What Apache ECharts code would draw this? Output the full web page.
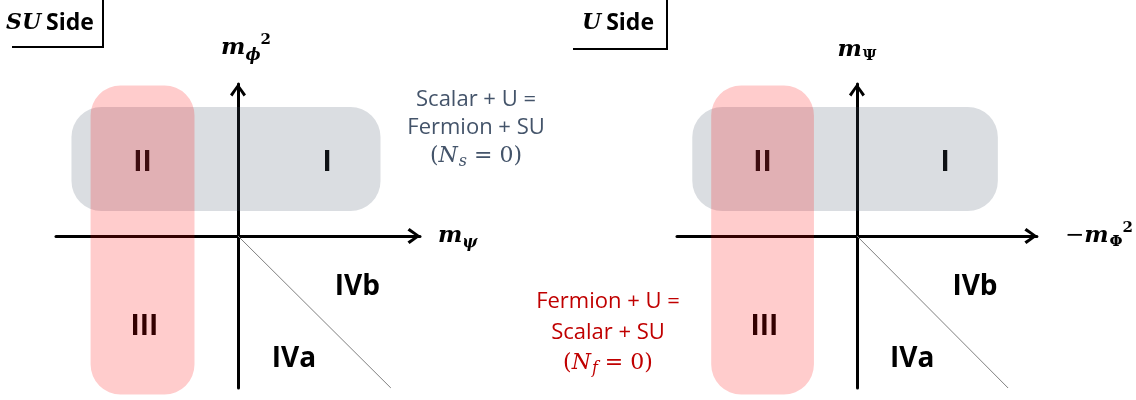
<!DOCTYPE html>
<html>
<head>
<meta charset="utf-8">
<script src="https://cdn.jsdelivr.net/npm/echarts@6/dist/echarts.min.js"></script>
<style>
html, body { margin: 0; padding: 0; background: #fff; }
#main { width: 1136px; height: 400px; }
</style>
</head>
<body>
<div id="main"></div>
<script>
// both panels share the same layout of regions in (x, y)
var bandNames = ['I + II', 'II + III'];
var bandX = [[-0.915, 0.783], [-0.81, -0.239]];
var bandY = [[0.164, 0.849], [-1.043, 0.99]];

var regionNames = ['I', 'II', 'III', 'IVb', 'IVa'];
var regionX = [0.49, -0.525, -0.514, 0.656, 0.307];
var regionY = [0.48, 0.48, -0.6, -0.336, -0.81];

var boundaryX = [0, 0.84];
var boundaryY = [0, -1.0];

var panelTitles = ['SU', 'U'];
var xNames = ['{m|m}{sub|ψ}', '{op|−}{m|m}{subU|Φ}{sup|2}'];
var yNames = ['{m|m}{sub|ϕ}{sup|2}', '{m|m}{subU|Ψ}'];

var bandColors = ['rgba(68,84,106,0.2)', 'rgba(255,0,0,0.2)'];
var chevron = 'path://M8,0 L16,11 L13.6,13 L8,4.6 L2.4,13 L0,11 Z';

var myChart = echarts.init(document.getElementById('main'));

var mathRich = {
    m: { fontFamily: 'DejaVu Serif', fontStyle: 'italic', fontWeight: 'bold', fontSize: 23, color: '#000' },
    op: { fontFamily: 'DejaVu Serif', fontSize: 23, color: '#000' },
    sub: { fontFamily: 'DejaVu Serif', fontStyle: 'italic', fontWeight: 'bold', fontSize: 16, color: '#000', padding: [14, 0, 0, 0] },
    subU: { fontFamily: 'DejaVu Serif', fontWeight: 'bold', fontSize: 15, color: '#000', padding: [12, 0, 0, 1] },
    sup: { fontFamily: 'DejaVu Serif', fontWeight: 'bold', fontSize: 15, color: '#000', padding: [0, 0, 16, 0] }
};

function noteRich(color) {
    return {
        t: { fontFamily: 'Open Sans', fontSize: 22, fill: color },
        p: { fontFamily: 'DejaVu Serif', fontSize: 22, fill: color },
        n: { fontFamily: 'DejaVu Serif', fontStyle: 'italic', fontSize: 22, fill: color },
        s: { fontFamily: 'DejaVu Serif', fontStyle: 'italic', fontSize: 16, fill: color, padding: [11, 0, 0, 1] }
    };
}

function makeAxis(idx, name, isX) {
    return {
        type: 'value',
        gridIndex: idx,
        min: -1,
        max: 1,
        name: name,
        nameLocation: 'end',
        nameGap: isX ? (idx === 0 ? 18 : 28) : 20,
        nameTextStyle: {
            rich: mathRich,
            padding: (!isX && idx === 0) ? [0, 0, 0, 16] : 0
        },
        axisLine: {
            onZero: true,
            symbol: ['none', chevron],
            symbolSize: [16, 14],
            symbolOffset: [0, -6],
            lineStyle: { color: '#000', width: 3 }
        },
        axisTick: { show: false },
        axisLabel: { show: false },
        splitLine: { show: false }
    };
}

function renderBand(params, api) {
    var p1 = api.coord([api.value(0), api.value(3)]);
    var p2 = api.coord([api.value(1), api.value(2)]);
    return {
        type: 'rect',
        shape: { x: p1[0], y: p1[1], width: p2[0] - p1[0], height: p2[1] - p1[1], r: 30 },
        style: { fill: bandColors[params.dataIndex] }
    };
}

var bandData = bandX.map(function (x, i) {
    return { name: bandNames[i], value: [x[0], x[1], bandY[i][0], bandY[i][1]] };
});
var regionData = regionNames.map(function (n, i) {
    return [regionX[i], regionY[i], n];
});
var boundaryData = boundaryX.map(function (x, i) {
    return [x, boundaryY[i]];
});

var series = [];
[0, 1].forEach(function (idx) {
    series.push({
        type: 'line',
        xAxisIndex: idx,
        yAxisIndex: idx,
        data: boundaryData,
        symbol: 'none',
        z: 1,
        lineStyle: { color: '#7f7f7f', width: 1 }
    });
    series.push({
        type: 'scatter',
        xAxisIndex: idx,
        yAxisIndex: idx,
        data: regionData,
        symbolSize: 0,
        z: 1,
        itemStyle: { opacity: 1 },
        label: {
            show: true,
            position: 'inside',
            formatter: function (p) { return p.value[2]; },
            fontFamily: 'Open Sans',
            fontWeight: 'bold',
            fontSize: 28,
            color: '#000'
        }
    });
    series.push({
        type: 'custom',
        xAxisIndex: idx,
        yAxisIndex: idx,
        data: bandData,
        renderItem: renderBand,
        z: 3
    });
});

function titleText(x, word) {
    return {
        type: 'text', x: x, y: 23,
        style: {
            text: '{it|' + word + '}{b|Side}',
            verticalAlign: 'middle',
            rich: {
                it: { fontFamily: 'DejaVu Serif', fontStyle: 'italic', fontWeight: 'bold', fontSize: 22, fill: '#000' },
                b: { fontFamily: 'Open Sans', fontWeight: 'bold', fontSize: 23, fill: '#000', padding: [0, 0, 0, 5] }
            }
        }
    };
}

var option = {
    animation: false,
    backgroundColor: '#fff',
    grid: [
        { left: 56, top: 84, width: 364, height: 304 },
        { left: 677, top: 84, width: 364, height: 304 }
    ],
    xAxis: [makeAxis(0, xNames[0], true), makeAxis(1, xNames[1], true)],
    yAxis: [makeAxis(0, yNames[0], false), makeAxis(1, yNames[1], false)],
    series: series,
    graphic: [
        {
            type: 'polyline',
            shape: { points: [[12, 47], [103, 47], [103, 0]] },
            style: { stroke: '#000', lineWidth: 2, fill: null }
        },
        {
            type: 'polyline',
            shape: { points: [[573, 49], [667, 49], [667, 0]] },
            style: { stroke: '#000', lineWidth: 2, fill: null }
        },
        titleText(6, panelTitles[0]),
        titleText(582, panelTitles[1]),
        {
            type: 'text', x: 476, y: 86,
            style: {
                text: '{t|Scalar + U =}\n{t|Fermion + SU}\n{p|(}{n|N}{s|s}{p| = 0)}',
                align: 'center',
                verticalAlign: 'top',
                lineHeight: 28,
                rich: noteRich('#44546A')
            }
        },
        {
            type: 'text', x: 608, y: 286,
            style: {
                text: '{t|Fermion + U =}\n{t|Scalar + SU}\n{p|(}{n|N}{s|f}{p| = 0)}',
                align: 'center',
                verticalAlign: 'top',
                lineHeight: 31,
                rich: noteRich('#C00000')
            }
        }
    ]
};

myChart.setOption(option);
</script>
</body>
</html>
